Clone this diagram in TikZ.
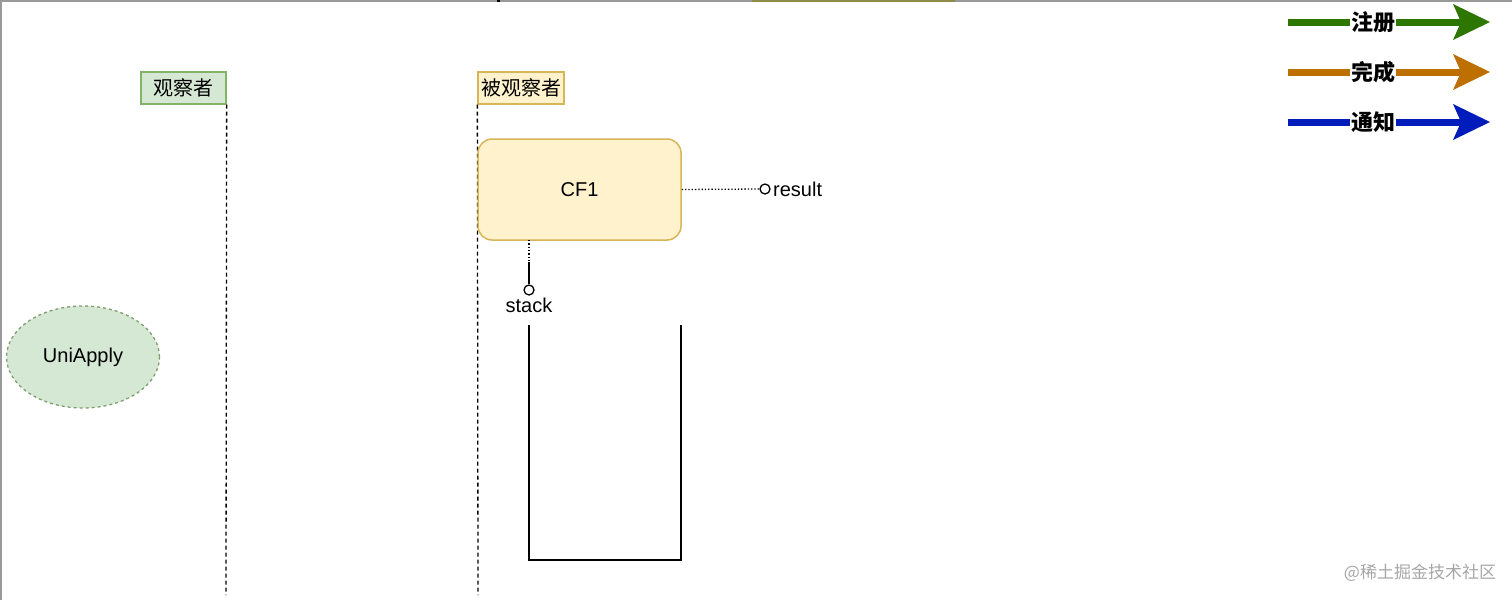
\documentclass[tikz,border=0pt]{standalone}
\usepackage{fontspec}
\setmainfont{Liberation Sans}
\newfontfamily\cjk{Noto Sans CJK SC}
\usetikzlibrary{shapes.geometric}
\definecolor{gfill}{HTML}{D5E8D4}
\definecolor{gline}{HTML}{82B366}
\definecolor{yfill}{HTML}{FFF2CC}
\definecolor{yline}{HTML}{D6B656}
\definecolor{lgreen}{HTML}{2D7600}
\definecolor{lorange}{HTML}{BD7000}
\definecolor{lblue}{HTML}{001DBC}
\tikzset{
  x=1pt, y=-1pt,
  actor/.style={draw, line width=1.3pt, inner sep=3pt, minimum height=32pt, font=\cjk\fontsize{20}{23}\selectfont},
  life/.style={line width=1.3pt, dash pattern=on 4pt off 3pt},
  lbl/.style={font=\fontsize{20}{23}\selectfont, inner sep=1pt},
  legtext/.style={fill=white, inner sep=1pt, font=\cjk\bfseries\fontsize{22}{25}\selectfont},
  port/.style={circle, draw, fill=white, line width=1.3pt, minimum size=10pt, inner sep=0pt},
}
\begin{document}
\begin{tikzpicture}
\useasboundingbox (0,0) rectangle (1512,600);
% frame
\draw[gray!80, line width=3pt] (0,0) -- (1512,0);
\draw[gray!80, line width=3pt] (0,0) -- (0,600);
\draw[black, line width=3pt] (497,0) -- (500,0);
\draw[olive!50!gray, line width=3pt] (752,0) -- (955,0);

% actors
\node[actor, fill=gfill, draw=gline, minimum width=85pt] (obs) at (183.5,88) {观察者};
\node[actor, fill=yfill, draw=yline, minimum width=86pt, inner sep=1pt] (subj) at (521,88) {被观察者};
\coordinate (obsEnd) at (226,595);
\coordinate (subjEnd) at (478,595);
\draw[life] (obs.south east) -- (obsEnd);
\draw[life] (subj.south west) -- (subjEnd);

% CF1
\node[draw=yline, fill=yfill, line width=1.5pt, rounded corners=14pt, minimum width=203pt, minimum height=101pt, font=\fontsize{20}{23}\selectfont] (cf1) at (579.5,189.5) {CF1};

% result port
\node[port] (res) at (765,189) {};
\node[lbl, anchor=west] (restext) at (772,189) {result};
\draw[dotted, line width=1.3pt] (cf1.east) -- (res.west);

% stack port
\node[port] (stk) at (529,290) {};
\node[lbl, anchor=north] (stktext) at (529,297) {stack};
\coordinate (cfb) at (529,240);
\coordinate (mid) at (529,262);
\draw[dotted, line width=1.3pt] (cfb) -- (mid);
\draw[line width=1.3pt] (mid) -- (stk.north);

% stack container
\coordinate (s1) at (529,325);
\coordinate (s2) at (529,560);
\coordinate (s3) at (681,560);
\coordinate (s4) at (681,325);
\draw[line width=2pt, line join=miter] (s1) -- (s2) -- (s3) -- (s4);

% UniApply
\node[ellipse, draw=gline!60!gray, fill=gfill, dashed, line width=1.3pt, minimum width=153pt, minimum height=102pt, font=\fontsize{20}{23}\selectfont] (uni) at (83,357) {UniApply};

% legend
\foreach \yy/\cc/\tt [count=\i] in {22/lgreen/注册, 72/lorange/完成, 122/lblue/通知}{
  \coordinate (ls\i) at (1288,\yy);
  \coordinate (le\i) at (1462,\yy);
  \draw[\cc, line width=7pt] (ls\i) -- (le\i);
  \fill[\cc] (1453,\yy-18) -- (1490,\yy) -- (1453,\yy+18) -- (1461,\yy) -- cycle;
  \node[legtext] (lt\i) at (1373,\yy) {\tt};
}

% watermark
\node[gray!70, font=\cjk\fontsize{17}{20}\selectfont, inner sep=0pt] (wm) at (1420,573) {@稀土掘金技术社区};
\end{tikzpicture}
\end{document}
